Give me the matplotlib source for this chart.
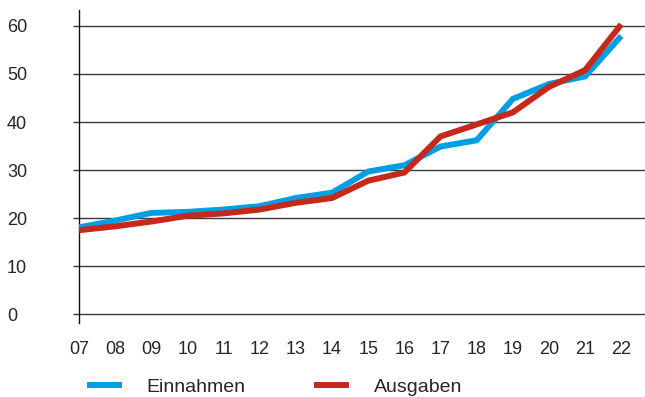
import matplotlib
matplotlib.use("Agg")
import matplotlib.pyplot as plt

# Jahre (Achsenbeschriftung) und Werte
years = ["07", "08", "09", "10", "11", "12", "13", "14",
         "15", "16", "17", "18", "19", "20", "21", "22"]
einnahmen = [18.1, 19.5, 21.1, 21.3, 21.8, 22.5, 24.2, 25.3,
             29.7, 31.0, 34.9, 36.2, 44.8, 47.9, 49.5, 57.9]
ausgaben = [17.5, 18.3, 19.3, 20.5, 21.0, 21.8, 23.2, 24.2,
            27.8, 29.5, 37.0, 39.5, 42.0, 47.3, 50.8, 60.3]
y_ticks = [0, 10, 20, 30, 40, 50, 60]

BLUE = "#009FE3"
RED = "#C4291C"
TEXT = "#262626"
GRID = "#3a3a3a"

plt.rcParams["font.family"] = ["Liberation Sans", "DejaVu Sans"]

fig = plt.figure(figsize=(6.45, 3.97), dpi=100)
ax = fig.add_axes([79 / 645, 74 / 397, 566 / 645, 313 / 397])

x = list(range(len(years)))
ax.plot(x, einnahmen, color=BLUE, lw=4.3, solid_capstyle="butt",
        solid_joinstyle="miter", label="Einnahmen", zorder=3)
ax.plot(x, ausgaben, color=RED, lw=4.3, solid_capstyle="butt",
        solid_joinstyle="miter", label="Ausgaben", zorder=3)

ax.set_xlim(0, 566 / 36.15)
ax.set_ylim(-1.8, 63.3)

ax.set_yticks(y_ticks)
ax.set_yticklabels([str(v) for v in y_ticks])
ax.set_xticks(x)
ax.set_xticklabels(years)

ax.grid(axis="y", color=GRID, lw=1.0)
ax.grid(axis="x", visible=False)
ax.set_axisbelow(True)

for s in ["top", "right", "bottom"]:
    ax.spines[s].set_visible(False)
ax.spines["left"].set_color("#111111")
ax.spines["left"].set_linewidth(1.0)

ax.tick_params(axis="y", length=4.3, width=1.0, color=GRID,
               pad=47.5, labelsize=13, labelcolor=TEXT)
for lab in ax.get_yticklabels():
    lab.set_horizontalalignment("left")
ax.tick_params(axis="x", length=0, pad=13, labelsize=13, labelcolor=TEXT)

fig.legend(loc="center left", bbox_to_anchor=(86.7 / 645, 1 - 387 / 397),
           ncol=2, frameon=False, borderpad=0, borderaxespad=0,
           handlelength=1.8, handletextpad=1.29, columnspacing=3.5,
           fontsize=14, labelcolor=TEXT)

fig.savefig("out.png", dpi=100)
